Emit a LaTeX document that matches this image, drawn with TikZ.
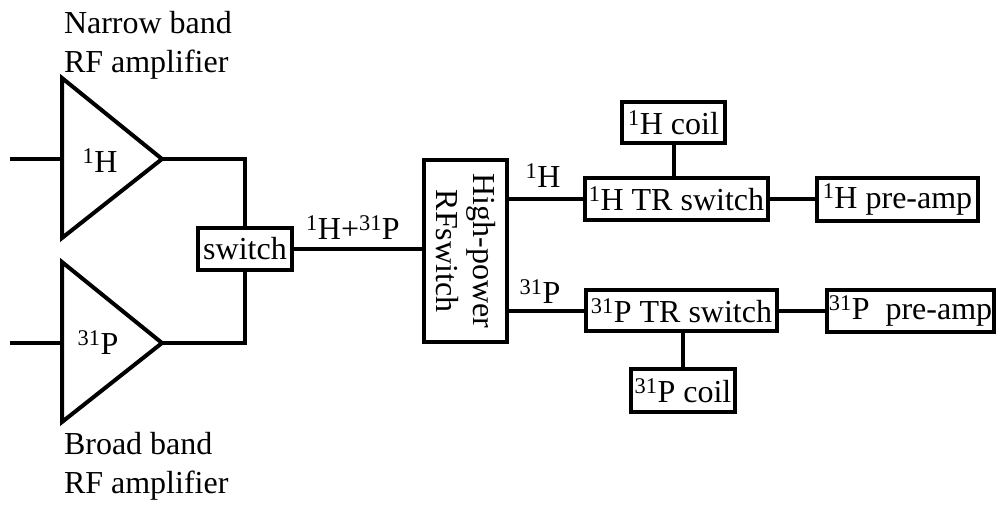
\documentclass[tikz,border=0pt]{standalone}
\usepackage{fontspec}
\setmainfont{Liberation Serif}
\begin{document}
\begin{tikzpicture}[x=1pt,y=-1pt,
  line width=4pt, line join=miter,
  txt/.style={font=\fontsize{32}{39}\selectfont, inner sep=0pt},
  blk/.style={draw, line width=4pt, font=\fontsize{32}{39}\selectfont, inner sep=0pt, align=center},
  wire/.style={draw, line width=4pt}]
\useasboundingbox (0,0) rectangle (996,504);

% labels of amplifiers
\node[txt, anchor=base west] (nb1) at (62,33) {Narrow band};
\node[txt, anchor=base west] (nb2) at (62,72) {RF amplifier};
\node[txt, anchor=base west] (bb1) at (62,454) {Broad band};
\node[txt, anchor=base west] (bb2) at (62,493) {RF amplifier};

% amplifier triangles
\coordinate (a1t) at (62,78);
\coordinate (a1b) at (62,238);
\coordinate (a1l) at (62,159);
\coordinate (tip1) at (162,159);
\coordinate (in1) at (10,159);
\draw (a1t) -- (tip1) -- (a1b) -- cycle;
\node[txt] (a1lab) at (100,161) {\textsuperscript{1}H};

\coordinate (a2t) at (62,262);
\coordinate (a2b) at (62,422);
\coordinate (a2l) at (62,343);
\coordinate (tip2) at (162,343);
\coordinate (in2) at (10,343);
\draw (a2t) -- (tip2) -- (a2b) -- cycle;
\node[txt] (a2lab) at (98,343) {\textsuperscript{31}P};

\draw[wire] (in1) -- (a1l);
\draw[wire] (in2) -- (a2l);

% switch
\node[blk, minimum width=94pt, minimum height=42pt] (sw) at (245,249) {switch};
\draw[wire] (tip1) -| (sw.north);
\draw[wire] (tip2) -| (sw.south);

% high-power RF switch
\node[blk, minimum width=83pt, minimum height=182pt] (hp) at (465.5,251) {};
\node[txt, rotate=-90, align=center, font=\fontsize{32}{37}\selectfont] (hptxt) at (hp.center) {High-power\\RFswitch};

\draw[wire] (sw.east) -- (sw.east -| hp.west);
\node[txt] (lhp) at (353,228) {\textsuperscript{1}H+\textsuperscript{31}P};

% 1H branch
\node[blk, minimum width=183pt, minimum height=42pt] (htr) at (676.5,199) {\textsuperscript{1}H TR switch};
\node[blk, minimum width=103pt, minimum height=41pt] (hcoil) at (673.5,122.5) {\textsuperscript{1}H coil};
\node[blk, minimum width=161pt, minimum height=43pt] (hpre) at (897.5,199.5) {\textsuperscript{1}H pre-amp};
\draw[wire] (hp.east |- htr.west) -- (htr.west);
\node[txt] (lh) at (543,176) {\textsuperscript{1}H};
\draw[wire] (hcoil.south) -- (hcoil.south |- htr.north);
\draw[wire] (htr.east) -- (htr.east -| hpre.west);

% 31P branch
\node[blk, minimum width=191pt, minimum height=41pt] (ptr) at (681.5,310.5) {\textsuperscript{31}P TR switch};
\node[blk, minimum width=104pt, minimum height=43pt] (pcoil) at (683,390.5) {\textsuperscript{31}P coil};
\node[blk, minimum width=167pt, minimum height=42pt] (ppre) at (910.5,311) {\textsuperscript{31}P\ \ pre-amp};
\draw[wire] (hp.east |- ptr.west) -- (ptr.west);
\node[txt] (lp) at (540,292) {\textsuperscript{31}P};
\draw[wire] (pcoil.north |- ptr.south) -- (pcoil.north);
\draw[wire] (ptr.east) -- (ptr.east -| ppre.west);
\end{tikzpicture}
\end{document}
